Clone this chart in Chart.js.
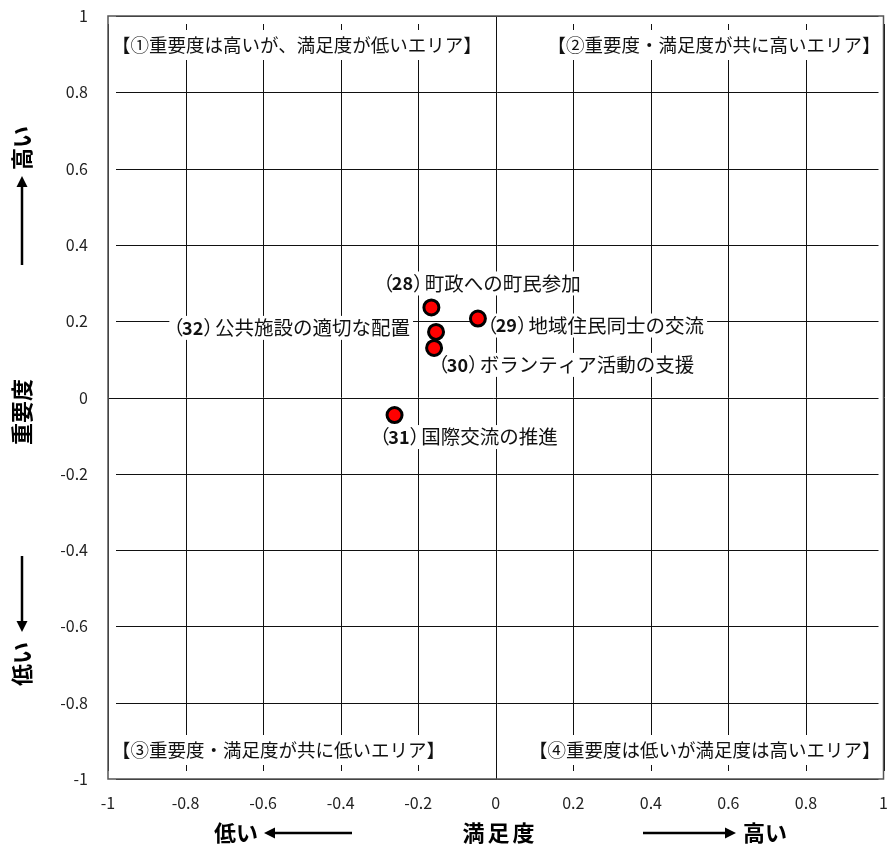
<!DOCTYPE html>
<html>
<head>
<meta charset="utf-8">
<script src="https://cdn.jsdelivr.net/npm/chart.js@4.4.1/dist/chart.umd.min.js"></script>
<style>
  html, body { margin: 0; padding: 0; background: #fff; }
  #wrap { width: 894px; height: 852px; }
</style>
</head>
<body>
<div id="wrap"><canvas id="chart"></canvas></div>
<script>
const itemNumbers = ['28', '29', '32', '30', '31'];
const itemNames = ['町政への町民参加', '地域住民同士の交流', '公共施設の適切な配置', 'ボランティア活動の支援', '国際交流の推進'];
const satisfaction = [-0.166, -0.046, -0.154, -0.159, -0.261];
const importance = [0.236, 0.207, 0.172, 0.130, -0.046];

const xTicks = [-1, -0.8, -0.6, -0.4, -0.2, 0, 0.2, 0.4, 0.6, 0.8, 1];
const yTicks = [-1, -0.8, -0.6, -0.4, -0.2, 0, 0.2, 0.4, 0.6, 0.8, 1];

const quadrantLabels = [
    '【①重要度は高いが、満足度が低いエリア】',
    '【②重要度・満足度が共に高いエリア】',
    '【③重要度・満足度が共に低いエリア】',
    '【④重要度は低いが満足度は高いエリア】'
];
const xTitle = '満足度';
const yTitle = '重要度';
const lowText = '低い';
const highText = '高い';

const FONT = '"Noto Sans CJK JP", "Noto Sans", sans-serif';

// label placement per point: [dx, dy, align]
const LABEL_POS = [
    [50, -24, 'center'],
    [8, 7, 'left'],
    [-26, -4, 'right'],
    [3, 17, 'left'],
    [-16, 22, 'left']
];

function fmt(v) {
    return String(Math.round(v * 10) / 10);
}

const framePlugin = {
    id: 'frame',
    beforeDatasetsDraw(chart) {
        const ctx = chart.ctx;
        const a = chart.chartArea;
        const xs = chart.scales.x, ys = chart.scales.y;
        ctx.save();
        // grid
        ctx.strokeStyle = '#111';
        ctx.lineWidth = 1;
        xTicks.forEach(v => {
            const px = Math.round(xs.getPixelForValue(v)) + 0.5;
            const inset = v === 0 ? 0 : 8;
            ctx.beginPath();
            ctx.moveTo(px, a.top + inset);
            ctx.lineTo(px, a.bottom - inset);
            ctx.stroke();
        });
        yTicks.forEach(v => {
            const py = Math.round(ys.getPixelForValue(v)) + 0.5;
            const inset = v === 0 ? 0 : 8;
            ctx.beginPath();
            ctx.moveTo(a.left + inset, py);
            ctx.lineTo(a.right - 5, py);
            ctx.stroke();
        });
        // frame
        ctx.strokeStyle = '#555';
        ctx.lineWidth = 1.5;
        ctx.strokeRect(a.left, a.top, a.right - a.left, a.bottom - a.top);

        // quadrant labels
        ctx.font = '18.5px ' + FONT;
        ctx.textBaseline = 'middle';
        const boxes = [
            [a.left + 4, a.top + 29, 'left'],
            [a.right - 3, a.top + 29, 'right'],
            [a.left + 4, a.bottom - 29, 'left'],
            [a.right - 3, a.bottom - 29, 'right']
        ];
        quadrantLabels.forEach((t, i) => {
            const [x, y, al] = boxes[i];
            const w = ctx.measureText(t).width;
            const x0 = al === 'left' ? x : x - w;
            ctx.fillStyle = '#fff';
            ctx.fillRect(x0 + 2, y - 15, w - 4, 30);
            ctx.fillStyle = '#111';
            ctx.textAlign = 'left';
            ctx.fillText(t, x0, y);
        });

        // data labels
        const meta = chart.getDatasetMeta(0);
        meta.data.forEach((pt, i) => {
            const [dx, dy, al] = LABEL_POS[i];
            const boldF = 'bold 18px ' + FONT;
            const normF = '19.5px ' + FONT;
            const parts = [
                ['（', normF], [itemNumbers[i], boldF], ['）', normF], [itemNames[i], normF]
            ];
            let total = 0;
            const widths = parts.map(p => {
                ctx.font = p[1];
                let w = ctx.measureText(p[0]).width;
                if (p[0] === '（') w = w * 0.5;
                if (p[0] === '）') w = w * 0.6;
                total += w;
                return w;
            });
            let x = pt.x + dx;
            if (al === 'center') x -= total / 2;
            if (al === 'right') x -= total;
            const y = pt.y + dy;
            ctx.fillStyle = '#fff';
            ctx.fillRect(x - 3, y - 12, total + 6, 24);
            ctx.fillStyle = '#111';
            ctx.textAlign = 'left';
            parts.forEach((p, k) => {
                ctx.font = p[1];
                let ox = 0;
                if (p[0] === '（') ox = -widths[k] * 0.85;
                ctx.fillText(p[0], x + ox, y);
                x += widths[k];
            });
        });
        ctx.restore();
    },
    afterDraw(chart) {
        const ctx = chart.ctx;
        ctx.save();
        ctx.fillStyle = '#000';
        ctx.strokeStyle = '#000';
        ctx.textBaseline = 'middle';
        ctx.font = 'bold 22px ' + FONT;

        function arrow(x1, y1, x2, y2) {
            ctx.lineWidth = 2.5;
            const ang = Math.atan2(y2 - y1, x2 - x1);
            const hl = 11, hw = 5.5;
            const bx = x2 - hl * Math.cos(ang), by = y2 - hl * Math.sin(ang);
            ctx.beginPath();
            ctx.moveTo(x1, y1);
            ctx.lineTo(bx, by);
            ctx.stroke();
            ctx.beginPath();
            ctx.moveTo(x2, y2);
            ctx.lineTo(bx + hw * Math.sin(ang), by - hw * Math.cos(ang));
            ctx.lineTo(bx - hw * Math.sin(ang), by + hw * Math.cos(ang));
            ctx.closePath();
            ctx.fill();
        }

        // x axis titles
        const ty = 833;
        ctx.textAlign = 'center';
        ctx.letterSpacing = '3px';
        ctx.fillText(xTitle, 500, ty);
        ctx.letterSpacing = '0px';
        ctx.textAlign = 'left';
        ctx.fillText(lowText, 214, ty);
        arrow(352, ty, 264, ty);
        arrow(643, ty, 736, ty);
        ctx.fillText(highText, 743, ty);

        // y axis titles (rotated)
        const tx = 22;
        ctx.save();
        ctx.translate(tx, 412);
        ctx.rotate(-Math.PI / 2);
        ctx.textAlign = 'center';
        ctx.fillText(yTitle, 0, 0);
        ctx.restore();

        ctx.save();
        ctx.translate(tx, 148);
        ctx.rotate(-Math.PI / 2);
        ctx.textAlign = 'center';
        ctx.fillText(highText, 0, 0);
        ctx.restore();
        arrow(tx, 265, tx, 176);

        arrow(tx, 556, tx, 632);
        ctx.save();
        ctx.translate(tx, 664);
        ctx.rotate(-Math.PI / 2);
        ctx.textAlign = 'center';
        ctx.fillText(lowText, 0, 0);
        ctx.restore();

        ctx.restore();
    }
};

new Chart(document.getElementById('chart'), {
    type: 'scatter',
    data: {
        datasets: [{
            data: satisfaction.map((x, i) => ({ x: x, y: importance[i] })),
            backgroundColor: '#ff0000',
            borderColor: '#000',
            borderWidth: 3,
            pointRadius: 7.5,
            pointHoverRadius: 7.5
        }]
    },
    options: {
        responsive: true,
        maintainAspectRatio: false,
        animation: false,
        events: [],
        layout: { padding: { left: 0, right: 7, top: 16, bottom: 0 } },
        plugins: {
            legend: { display: false },
            tooltip: { enabled: false }
        },
        scales: {
            x: {
                type: 'linear',
                min: -1,
                max: 1,
                afterBuildTicks: s => { s.ticks = xTicks.map(v => ({ value: v })); },
                afterFit: s => { s.height = 73; s.paddingLeft = 0; s.paddingRight = 0; },
                grid: { display: false, drawTicks: false },
                border: { display: false },
                ticks: {
                    padding: 14,
                    color: '#222',
                    font: { family: FONT, size: 16 },
                    maxRotation: 0,
                    autoSkip: false,
                    callback: fmt
                }
            },
            y: {
                type: 'linear',
                min: -1,
                max: 1,
                afterBuildTicks: s => { s.ticks = yTicks.map(v => ({ value: v })); },
                afterFit: s => { s.width = 108; s.paddingTop = 0; s.paddingBottom = 0; },
                grid: { display: false, drawTicks: false },
                border: { display: false },
                ticks: {
                    padding: 20,
                    color: '#222',
                    font: { family: FONT, size: 16 },
                    autoSkip: false,
                    callback: fmt
                }
            }
        }
    },
    plugins: [framePlugin]
});
</script>
</body>
</html>
